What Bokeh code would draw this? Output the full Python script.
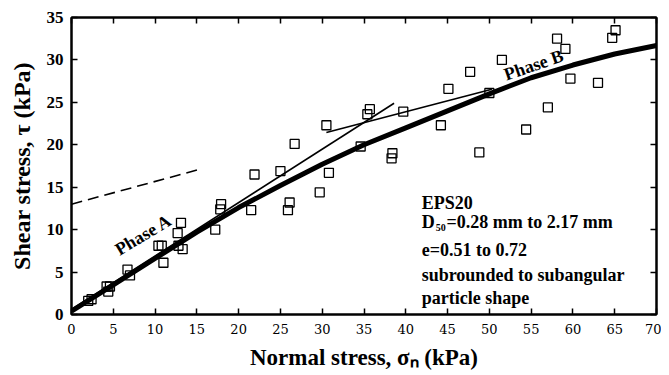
from bokeh.plotting import figure
from bokeh.models import LinearAxis, FixedTicker, Label, Range1d
from bokeh.embed import file_html
from bokeh.resources import INLINE

# ---- data ----
sigma = [2.0, 2.4, 4.2, 4.4, 4.6, 6.7, 7.0, 10.4, 10.8, 11.0, 12.7, 12.8, 13.1, 13.3,
         17.2, 17.8, 17.9, 21.5, 21.9, 25.0, 25.9, 26.1, 26.7, 29.7, 30.5, 30.8,
         34.6, 35.4, 35.7, 38.3, 38.4, 39.7, 44.2, 45.1, 47.7, 48.8, 50.0, 51.5,
         54.4, 57.0, 58.1, 59.1, 59.7, 63.0, 64.7, 65.1]
tau = [1.6, 1.8, 3.3, 2.7, 3.3, 5.3, 4.6, 8.1, 8.1, 6.1, 9.6, 8.1, 10.8, 7.7,
       10.0, 12.4, 13.0, 12.3, 16.5, 16.9, 12.3, 13.2, 20.1, 14.4, 22.3, 16.7,
       19.8, 23.6, 24.2, 18.4, 19.0, 23.9, 22.3, 26.6, 28.6, 19.1, 26.1, 30.0,
       21.8, 24.4, 32.5, 31.3, 27.8, 27.3, 32.6, 33.5]

curve_x = [0, 5, 10, 15, 20, 25, 30, 35, 40, 45, 50, 55, 60, 65, 70]
curve_y = [0.4, 3.5, 6.6, 9.7, 12.6, 15.2, 17.7, 20.0, 22.0, 24.0, 26.0, 27.9, 29.4, 30.7, 31.7]

phaseA_x = [0.0, 38.6]
phaseA_y = [0.6, 24.9]
phaseB_x = [30.5, 50.3]
phaseB_y = [21.45, 26.55]
dash_x = [0.0, 15.3]
dash_y = [13.0, 17.1]

x_ticks = [0, 5, 10, 15, 20, 25, 30, 35, 40, 45, 50, 55, 60, 65, 70]
y_ticks = [0, 5, 10, 15, 20, 25, 30, 35]

SERIF = "Liberation Serif"

p = figure(width=661, height=372, x_range=Range1d(0, 70), y_range=Range1d(0, 35),
           output_backend="svg", toolbar_location=None,
           min_border_left=71, min_border_right=5, min_border_top=17, min_border_bottom=40)
p.grid.visible = False
p.outline_line_color = "black"
p.outline_line_width = 2


def style_axis(ax, ticks):
    ax.ticker = FixedTicker(ticks=ticks)
    ax.axis_line_width = 2
    ax.axis_line_color = "black"
    ax.major_tick_in = 6
    ax.major_tick_out = 0
    ax.major_tick_line_width = 1.5
    ax.minor_tick_line_color = None


xa = p.xaxis[0]
style_axis(xa, x_ticks)
xa.major_label_text_font = "DejaVu Serif"
xa.major_label_text_font_size = "13px"
xa.major_label_text_color = "black"
xa.major_label_standoff = 9
xa.axis_label = "Normal stress, \u03c3\u2099 (kPa)"
xa.axis_label_text_font = SERIF
xa.axis_label_text_font_size = "23px"
xa.axis_label_text_font_style = "bold"
xa.axis_label_text_color = "black"
xa.axis_label_standoff = 8

ya = p.yaxis[0]
style_axis(ya, y_ticks)
ya.major_label_text_font = SERIF
ya.major_label_text_font_size = "17px"
ya.major_label_text_font_style = "bold"
ya.major_label_text_color = "black"
ya.major_label_standoff = 8
ya.axis_label = "Shear stress, \u03c4 (kPa)"
ya.axis_label_text_font = SERIF
ya.axis_label_text_font_size = "24px"
ya.axis_label_text_font_style = "bold"
ya.axis_label_text_color = "black"
ya.axis_label_standoff = 9

top = LinearAxis()
style_axis(top, x_ticks)
top.major_label_overrides = {t: "" for t in x_ticks}
top.major_label_text_font_size = "0px"
top.major_label_standoff = 0
p.add_layout(top, "above")

right = LinearAxis()
style_axis(right, y_ticks)
right.major_label_overrides = {t: "" for t in y_ticks}
right.major_label_text_font_size = "0px"
right.major_label_standoff = 0
p.add_layout(right, "right")

# lines
p.line(dash_x, dash_y, line_color="black", line_width=1.6, line_dash="11 6")
p.line(phaseA_x, phaseA_y, line_color="black", line_width=1.6)
p.line(phaseB_x, phaseB_y, line_color="black", line_width=1.6)
p.line(curve_x, curve_y, line_color="black", line_width=5)

# points
p.scatter(sigma, tau, marker="square", size=9, fill_color=None,
          line_color="black", line_width=1.3)


def lab(x, y, text, size="18px", style="bold", align="left", baseline="alphabetic",
        angle=0, font=SERIF):
    p.add_layout(Label(x=x, y=y, text=text, text_font=font, text_font_size=size,
                       text_font_style=style, text_align=align, text_baseline=baseline,
                       angle=angle, angle_units="deg", text_color="black"))


# phase labels
lab(8.6, 9.4, "Phase A", size="18px", align="center", baseline="middle", angle=31)
lab(55.3, 29.4, "Phase B", size="18px", align="center", baseline="middle", angle=19)

# annotation block
ax0 = 41.9
lab(ax0, 13.13, "EPS20")
lab(ax0, 10.92, "D")
lab(43.6, 10.24, "50", size="10px")
lab(44.87, 10.92, "=0.28 mm to 2.17 mm")
lab(ax0, 7.65, "e=0.51 to 0.72")
lab(ax0, 4.68, "subrounded to subangular")
lab(ax0, 1.99, "particle shape")

open("out.html", "w").write(file_html(p, INLINE))
